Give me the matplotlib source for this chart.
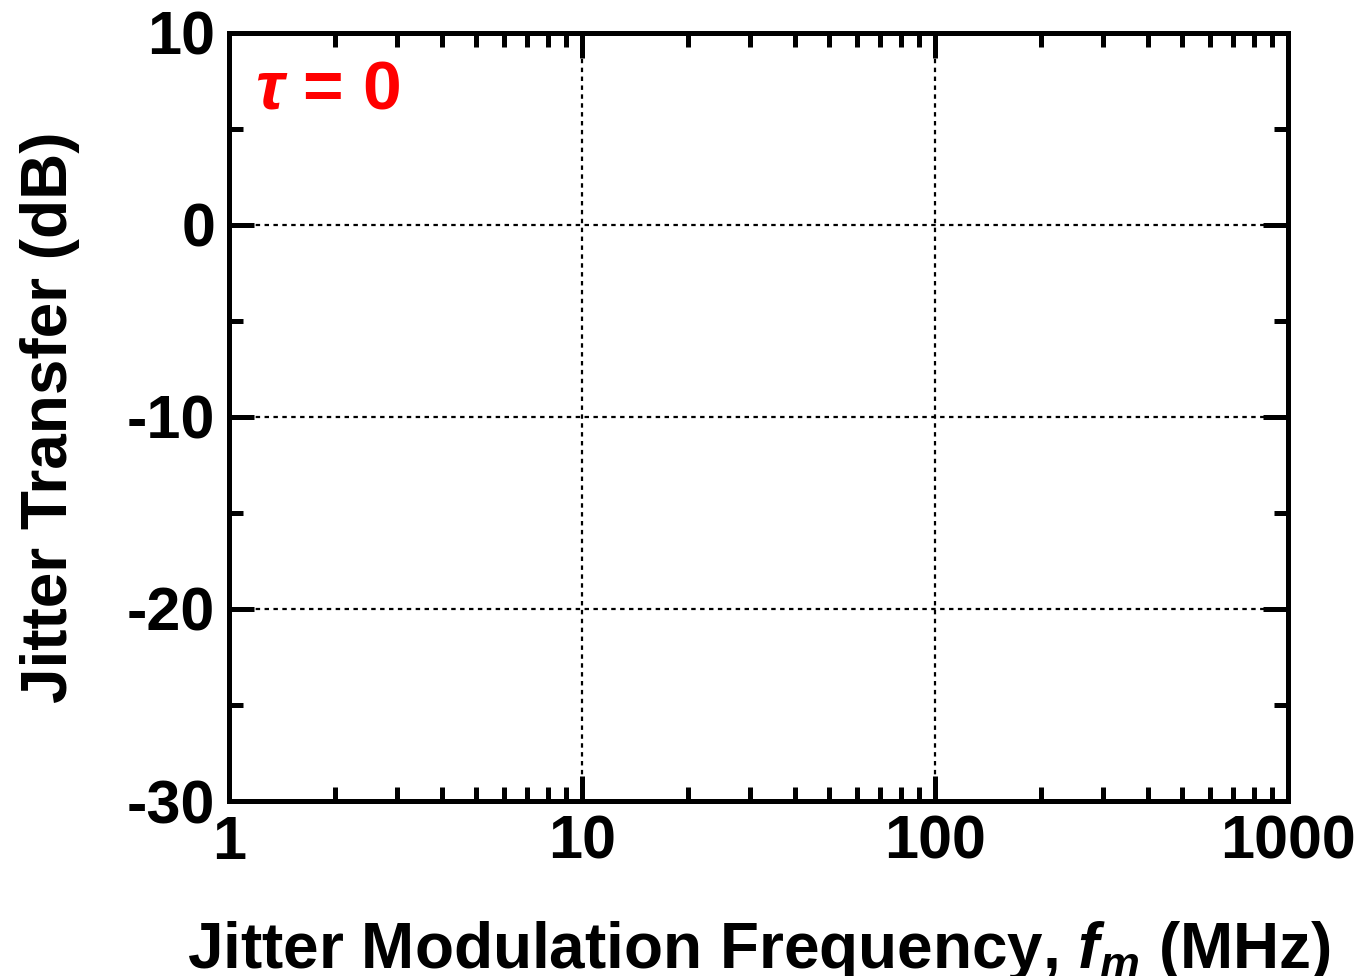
import matplotlib.pyplot as plt
from matplotlib.ticker import FixedLocator, NullFormatter

# axis ranges and ticks
x_limits = [1, 1000]
y_limits = [-30, 10]
x_ticks = [1, 10, 100, 1000]
x_tick_labels = ['1', '10', '100', '1000']
y_ticks = [10, 0, -10, -20, -30]
y_tick_labels = ['10', '0', '-10', '-20', '-30']
y_minor_ticks = [5, -5, -15, -25]
tau_label = r'$\tau$ = 0'

plt.rcParams['font.family'] = ['Liberation Sans', 'DejaVu Sans']
plt.rcParams['font.weight'] = 'bold'
plt.rcParams['mathtext.fontset'] = 'custom'
plt.rcParams['mathtext.rm'] = 'Liberation Sans:bold'
plt.rcParams['mathtext.it'] = 'Liberation Sans:italic:bold'
plt.rcParams['mathtext.bf'] = 'Liberation Sans:bold'

fig = plt.figure(figsize=(13.6, 9.76), dpi=100)
ax = fig.add_axes([0.1684, 0.1793, 0.7787, 0.7869])

ax.set_xscale('log')
ax.set_xlim(x_limits)
ax.set_ylim(y_limits)

ax.set_xticks(x_ticks)
ax.set_xticklabels(x_tick_labels)
ax.xaxis.set_minor_formatter(NullFormatter())
ax.set_yticks(y_ticks)
ax.set_yticklabels(y_tick_labels)
ax.yaxis.set_minor_locator(FixedLocator(y_minor_ticks))

for s in ax.spines.values():
    s.set_linewidth(3.6)

ax.tick_params(which='both', direction='in', top=True, right=True, width=3.6,
               labelsize=44, pad=10)
ax.tick_params(which='major', length=18)
ax.tick_params(which='minor', length=10)

ax.grid(True, which='major', color='black', linestyle=(0, (2, 2)), linewidth=1.6)

ax.set_xlabel('Jitter Modulation Frequency, $f_m$ (MHz)', fontsize=46,
              fontweight='bold', labelpad=34)
ax.set_ylabel('Jitter Transfer (dB)', fontsize=46, fontweight='bold', labelpad=34)

ax.text(0.025, 0.925, tau_label, transform=ax.transAxes, color='red',
        fontsize=50, fontweight='bold', va='center', ha='left')

fig.savefig('out.png', dpi=100)
